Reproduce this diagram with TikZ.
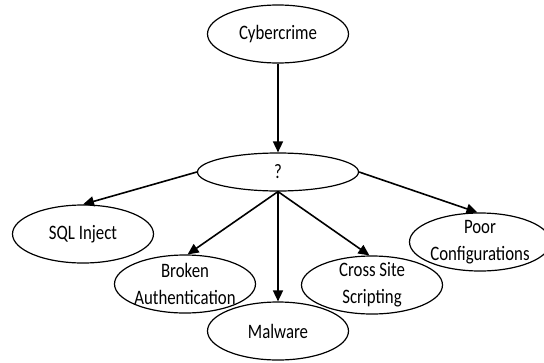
\documentclass[tikz,border=0pt]{standalone}
\usepackage{fontspec}
\setmainfont{Carlito}[FakeStretch=0.82]
\usetikzlibrary{shapes.geometric,arrows.meta}
\tikzset{
    bulle/.style={ellipse, draw, line width=1.2pt, minimum width=141pt, minimum height=58pt, inner sep=0pt},
    texte/.style={font=\fontsize{20.5}{27}\selectfont, align=center, inner sep=0pt},
    fleche/.style={-{Triangle[length=11pt,width=10pt]}, line width=1.6pt},
  }

\begin{document}
\begin{tikzpicture}[x=1pt,y=-1pt]
				  %cadre de l'image
				  \useasboundingbox (0,0) rectangle (544,362);
				  \node[bulle, label={[texte]center:Cybercrime}] (cyber) at (278,34) {};
				  \node[bulle, minimum width=161pt, minimum height=38pt, label={[texte]center:?}] (q) at (278,172) {};
				  \node[bulle, label={[texte]center:SQL Inject}] (sql) at (83,234) {};
				  \node[bulle, label={[texte]center:{Broken\\Authentication}}] (broken) at (185,284) {};
				  \node[bulle, label={[texte]center:Malware}] (malware) at (278,331) {};
				  \node[bulle, label={[texte]center:{Cross Site\\Scripting}}] (cross) at (372,285) {};
				  \node[bulle, label={[texte]center:{Poor\\Configurations}}] (poor) at (480,242) {};

				  \draw[fleche] (cyber) -- (q);
				  \draw[fleche] (q.west) -- (sql.north);
				  \draw[fleche] (q.south) -- (broken.85);
				  \draw[fleche] (q.south) -- (malware.north);
				  \draw[fleche] (q.south) -- (cross.95);
				  \draw[fleche] (q.east) -- (poor.95);
				  \end{tikzpicture}
\end{document}
